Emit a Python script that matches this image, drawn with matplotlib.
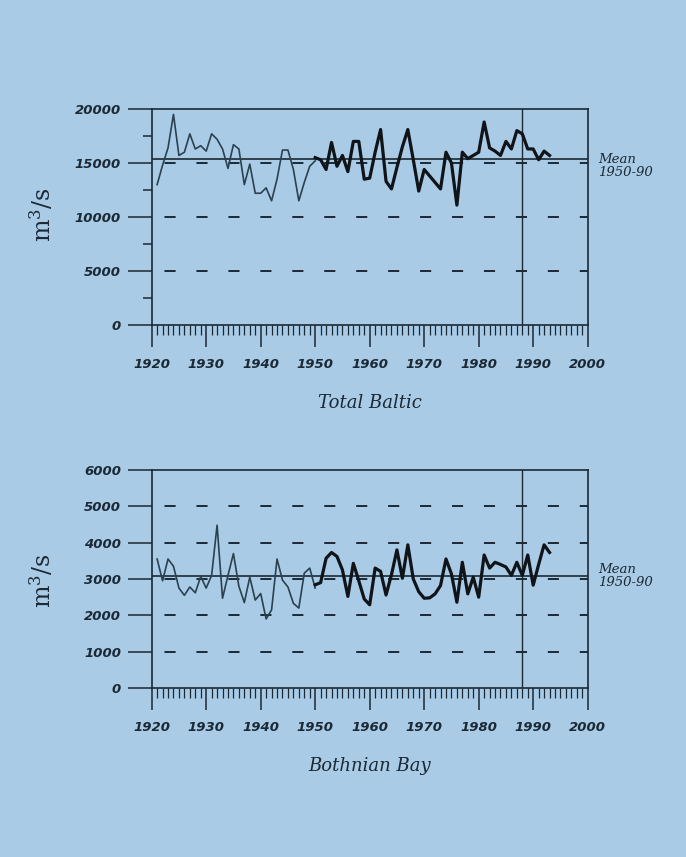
import matplotlib
matplotlib.use("Agg")
import matplotlib.pyplot as plt
from matplotlib.ticker import MultipleLocator, NullLocator
import matplotlib.transforms as mtransforms

plt.rcParams['lines.scale_dashes'] = False
plt.rcParams['mathtext.fontset'] = 'dejavuserif'

# river runoff, m3/s
years_early = list(range(1921, 1951))
years_late = list(range(1950, 1994))

baltic_early = [13000, 14800, 16400, 19500, 15700, 16000, 17700, 16300, 16600, 16100,
                17700, 17200, 16300, 14500, 16700, 16300, 13000, 14900, 12200, 12200,
                12700, 11500, 13500, 16200, 16200, 14400, 11500, 13200, 14700, 15200]
baltic_late = [15500, 15300, 14400, 16900, 14700, 15700, 14200, 17000, 17000, 13500,
               13600, 16000, 18100, 13300, 12600, 14600, 16500, 18100, 15300, 12400,
               14400, 13800, 13200, 12600, 16000, 15000, 11100, 16000, 15400, 15700,
               16000, 18800, 16400, 16100, 15700, 17000, 16300, 18000, 17700, 16300,
               16300, 15300, 16100, 15700]
baltic_mean = 15400

bothnian_early = [3550, 2950, 3550, 3350, 2750, 2550, 2780, 2620, 3070, 2750,
                  3100, 4480, 2470, 3100, 3700, 2800, 2350, 3050, 2420, 2600,
                  1900, 2150, 3550, 2970, 2780, 2330, 2200, 3160, 3300, 2750]
bothnian_late = [2840, 2900, 3570, 3730, 3620, 3250, 2520, 3430, 2950, 2450,
                 2290, 3300, 3210, 2560, 3120, 3800, 3020, 3940, 3000, 2650,
                 2470, 2480, 2590, 2820, 3550, 3140, 2360, 3460, 2590, 3050,
                 2500, 3660, 3300, 3460, 3400, 3330, 3100, 3460, 3100, 3660,
                 2830, 3400, 3940, 3730]
bothnian_mean = 3090

bg = '#a9cbe6'
ink = '#1b2935'

tick_font = dict(family='DejaVu Sans', weight='bold', style='italic', size=9.5)


def draw_panel(ax, early, late, mean, ymax, ystep, ygrid, yminor, title, mean_dy):
    ax.set_facecolor(bg)
    ax.set_xlim(1920, 2000)
    ax.set_ylim(0, ymax)

    # dashed reference levels, solid 1950-90 mean, 1988 marker
    for v in ygrid:
        ax.axhline(v, color=ink, lw=1.4, ls=(14, (8, 15)), zorder=1)
    ax.axhline(mean, color=ink, lw=1.2, zorder=2)
    ax.axvline(1988, color=ink, lw=1.0, zorder=2)

    ax.plot(years_early, early, color='#2a4150', lw=1.2, zorder=3)
    ax.plot(years_late, late, color='#101418', lw=2.3, zorder=4)

    for s in ax.spines.values():
        s.set_color(ink)
        s.set_linewidth(1.2)

    ax.xaxis.set_major_locator(MultipleLocator(10))
    ax.xaxis.set_minor_locator(MultipleLocator(1))
    ax.yaxis.set_major_locator(MultipleLocator(ystep))
    if yminor:
        ax.yaxis.set_minor_locator(MultipleLocator(yminor))
    else:
        ax.yaxis.set_minor_locator(NullLocator())

    ax.tick_params(axis='x', which='major', direction='out', length=16, width=1.1,
                   color=ink, pad=8)
    ax.tick_params(axis='x', which='minor', direction='out', length=7, width=0.9,
                   color=ink)
    ax.tick_params(axis='y', which='major', direction='out', length=17, width=1.1,
                   color=ink, pad=5)
    ax.tick_params(axis='y', which='minor', direction='out', length=6.5, width=1.1,
                   color=ink)
    for lab in ax.get_xticklabels() + ax.get_yticklabels():
        lab.set_fontproperties(tick_font)
        lab.set_color(ink)

    trans = mtransforms.blended_transform_factory(ax.transAxes, ax.transData)
    ax.annotate('Mean\n1950-90', xy=(1.024, mean), xycoords=trans,
                xytext=(0, mean_dy), textcoords='offset points',
                ha='left', va='center', linespacing=1.0,
                family='DejaVu Serif', style='italic', fontsize=9.5, color=ink)

    ax.set_xlabel(title, family='DejaVu Serif', style='italic', fontsize=13,
                  color=ink, labelpad=16)


fig = plt.figure(figsize=(6.86, 8.57), dpi=100, facecolor=bg)

ax1 = fig.add_axes([0.2211, 0.6208, 0.6356, 0.2520])
draw_panel(ax1, baltic_early, baltic_late, baltic_mean, 20000, 5000,
           [5000, 10000, 15000], 2500, 'Total Baltic', -5)

ax2 = fig.add_axes([0.2211, 0.1972, 0.6356, 0.2544])
draw_panel(ax2, bothnian_early, bothnian_late, bothnian_mean, 6000, 1000,
           [1000, 2000, 3000, 4000, 5000], None, 'Bothnian Bay', 0)

for yc in (0.749, 0.323):
    fig.text(0.061, yc, r'm$^3$/s', rotation=90, ha='center', va='center',
             family='DejaVu Serif', fontsize=17, color=ink)

fig.savefig('out.png', dpi=100, facecolor=bg)
